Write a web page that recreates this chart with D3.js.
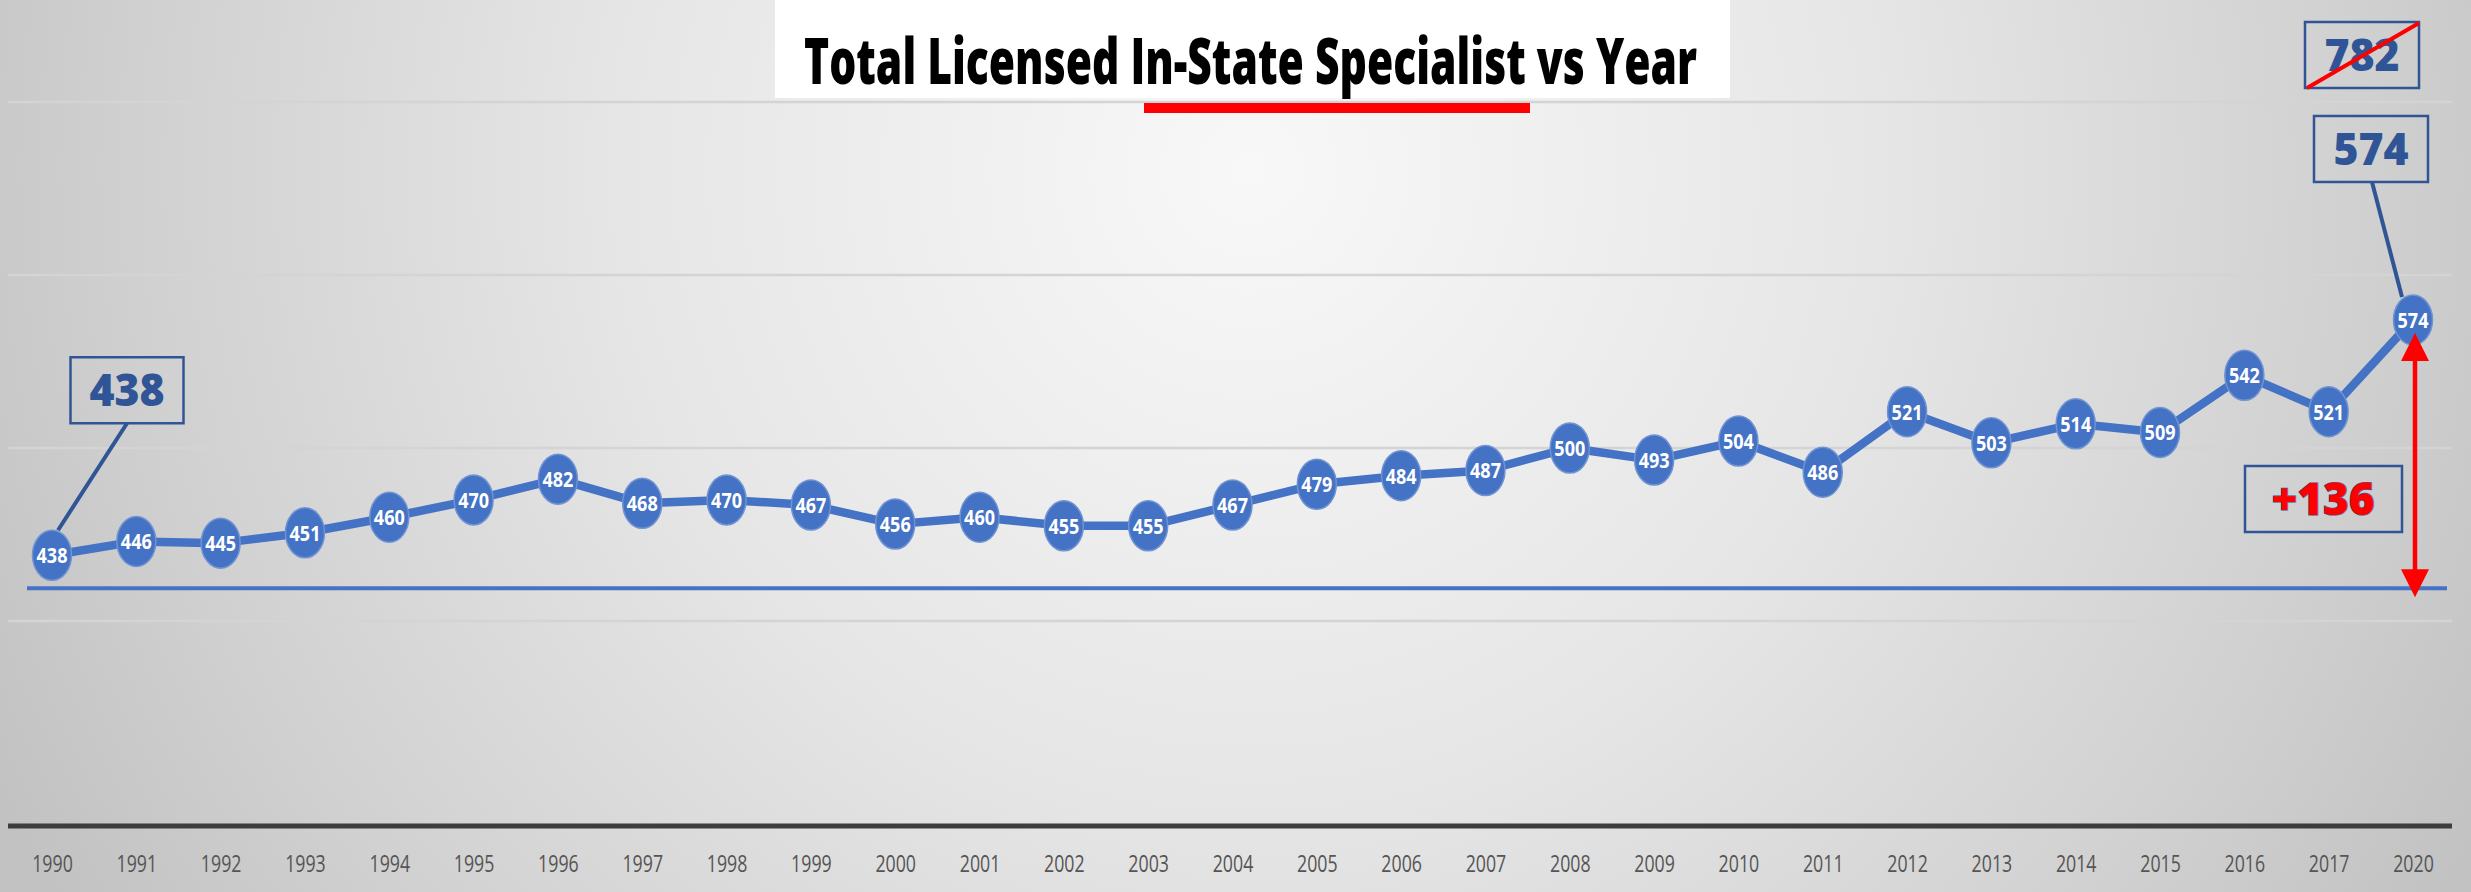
<!DOCTYPE html>
<html>
<head>
<meta charset="utf-8">
<script src="https://cdn.jsdelivr.net/npm/d3@7"></script>
<style>
  html, body { margin: 0; padding: 0; background: #d9d9d9; }
  svg { display: block; }
</style>
</head>
<body>
<svg id="chart" width="2471" height="892"></svg>
<script>
// Licensed in-state specialists per year
const years = ["1990","1991","1992","1993","1994","1995","1996","1997","1998","1999",
               "2000","2001","2002","2003","2004","2005","2006","2007","2008","2009",
               "2010","2011","2012","2013","2014","2015","2016","2017","2020"];
const values = [438,446,445,451,460,470,482,468,470,467,
                456,460,455,455,467,479,484,487,500,493,
                504,486,521,503,514,509,542,521,574];
const gridValues = [400, 500, 600, 700];
const titleText = "Total Licensed In-State Specialist vs Year";
const startValue = 438;
const endValue = 574;
const projectedValue = 782;
const changeText = "+136";
const referenceValue = 419;

const W = 2471, H = 892;
const svg = d3.select("#chart");
const defs = svg.append("defs");

// soft grey backdrop, brightest under the title
const bg = defs.append("radialGradient")
  .attr("id", "bg").attr("gradientUnits", "userSpaceOnUse")
  .attr("cx", 1250).attr("cy", 170).attr("r", 1400);
bg.append("stop").attr("offset", 0).attr("stop-color", "#f8f8f8");
bg.append("stop").attr("offset", 0.45).attr("stop-color", "#e6e6e6");
bg.append("stop").attr("offset", 0.8).attr("stop-color", "#d0d0d0");
bg.append("stop").attr("offset", 1).attr("stop-color", "#c2c2c2");
svg.append("rect").attr("width", W).attr("height", H).attr("fill", "url(#bg)");

const blue = "#4472C4", darkBlue = "#2F5597", red = "#FF0000";

const x = d3.scalePoint().domain(years).range([52, 2413]);
const y = d3.scaleLinear().domain([400, 700]).range([621, 102]);
const axisY = 826;

// title panel
svg.append("rect").attr("x", 775).attr("y", 0).attr("width", 955).attr("height", 98).attr("fill", "#ffffff");

// horizontal gridlines
svg.append("g").selectAll("line").data(gridValues).join("line")
  .attr("x1", 8).attr("x2", 2452)
  .attr("y1", d => y(d)).attr("y2", d => y(d))
  .attr("stroke", "#d4d4d4").attr("stroke-width", 2.5);

svg.append("text")
  .attr("x", 804).attr("y", 84)
  .attr("textLength", 893).attr("lengthAdjust", "spacingAndGlyphs")
  .attr("font-family", "Open Sans, sans-serif").attr("font-weight", 800)
  .attr("font-size", 63).attr("fill", "#000")
  .text(titleText);
svg.append("rect").attr("x", 1144).attr("y", 103).attr("width", 386).attr("height", 10).attr("fill", red);

// reference baseline
svg.append("line")
  .attr("x1", 27).attr("x2", 2447)
  .attr("y1", y(referenceValue)).attr("y2", y(referenceValue))
  .attr("stroke", blue).attr("stroke-width", 4);

// category axis
const axis = d3.axisBottom(x).tickSize(0).tickPadding(0);
const gx = svg.append("g").attr("transform", `translate(0,${axisY})`).call(axis);
gx.select(".domain").remove();
gx.selectAll("text")
  .attr("y", 46).attr("dy", 0).attr("x", 0)
  .attr("transform", "scale(0.74,1)")
  .attr("font-family", "Open Sans, sans-serif").attr("font-size", 24)
  .attr("fill", "#555555");
svg.append("line").attr("x1", 8).attr("x2", 2452).attr("y1", axisY).attr("y2", axisY)
  .attr("stroke", "#3d3d3d").attr("stroke-width", 5);

// series line
const line = d3.line().x((d, i) => x(years[i])).y(d => y(d));
svg.append("path").datum(values)
  .attr("d", line).attr("fill", "none")
  .attr("stroke", blue).attr("stroke-width", 8.5).attr("stroke-linejoin", "round");

// callouts with leader lines
const first = years[0], last = years[years.length - 1];
function callout(cx, cy, w, h, label, leaderTo) {
  if (leaderTo) {
    svg.append("line")
      .attr("x1", leaderTo[0]).attr("y1", leaderTo[1])
      .attr("x2", leaderTo[2]).attr("y2", leaderTo[3])
      .attr("stroke", darkBlue).attr("stroke-width", 4);
  }
  svg.append("rect")
    .attr("x", cx - w / 2).attr("y", cy - h / 2).attr("width", w).attr("height", h)
    .attr("fill", "none").attr("stroke", darkBlue).attr("stroke-width", 2.5);
  return svg.append("text")
    .attr("transform", `translate(${cx},${cy + 16}) scale(0.95,1)`)
    .attr("text-anchor", "middle")
    .attr("font-family", "Open Sans, sans-serif").attr("font-weight", 800)
    .attr("font-size", 45).attr("fill", darkBlue)
    .text(label);
}

const sx = x(first), sy = y(startValue);
callout(sx + 75, sy - 165, 113, 66, startValue, [sx + 75, sy - 132, sx + 6, sy - 25]);
const ex = x(last), ey = y(endValue);
callout(ex - 42, ey - 171, 114, 66, endValue, [ex - 41, ey - 138, ex - 11, ey - 23]);
callout(ex - 51, 55, 114, 66, projectedValue);
svg.append("line").attr("x1", ex - 106).attr("y1", 88).attr("x2", ex + 6).attr("y2", 23)
  .attr("stroke", red).attr("stroke-width", 4);

// markers with value labels
const pts = svg.append("g").selectAll("g").data(values).join("g")
  .attr("transform", (d, i) => `translate(${x(years[i])},${y(d)})`);
pts.append("ellipse").attr("rx", 19.5).attr("ry", 25)
  .attr("fill", blue).attr("stroke", "#6f93d3").attr("stroke-width", 1.5);
pts.append("text")
  .attr("transform", "scale(0.84,1)")
  .attr("text-anchor", "middle").attr("y", 8)
  .attr("font-family", "Open Sans, sans-serif").attr("font-weight", 700)
  .attr("font-size", 21.5).attr("fill", "#ffffff")
  .text(d => d);

// change arrow from the reference line up to the latest value
const ax = ex + 2;
const topY = ey + 13, botY = y(referenceValue) + 9;
svg.append("line").attr("x1", ax).attr("x2", ax).attr("y1", topY + 20).attr("y2", botY - 20)
  .attr("stroke", red).attr("stroke-width", 4.5);
svg.append("path")
  .attr("d", `M${ax},${topY} L${ax - 14},${topY + 28} L${ax + 14},${topY + 28} Z`)
  .attr("fill", red);
svg.append("path")
  .attr("d", `M${ax},${botY} L${ax - 14},${botY - 28} L${ax + 14},${botY - 28} Z`)
  .attr("fill", red);

// change callout
svg.append("rect").attr("x", 2245).attr("y", 466).attr("width", 157).attr("height", 66)
  .attr("fill", "none").attr("stroke", darkBlue).attr("stroke-width", 2.5);
svg.append("text")
  .attr("x", 2323).attr("y", 515).attr("text-anchor", "middle")
  .attr("font-family", "Open Sans, sans-serif").attr("font-weight", 800)
  .attr("font-size", 44).attr("fill", red)
  .attr("stroke", darkBlue).attr("stroke-width", 1.2).attr("paint-order", "stroke")
  .text(changeText);
</script>
</body>
</html>
